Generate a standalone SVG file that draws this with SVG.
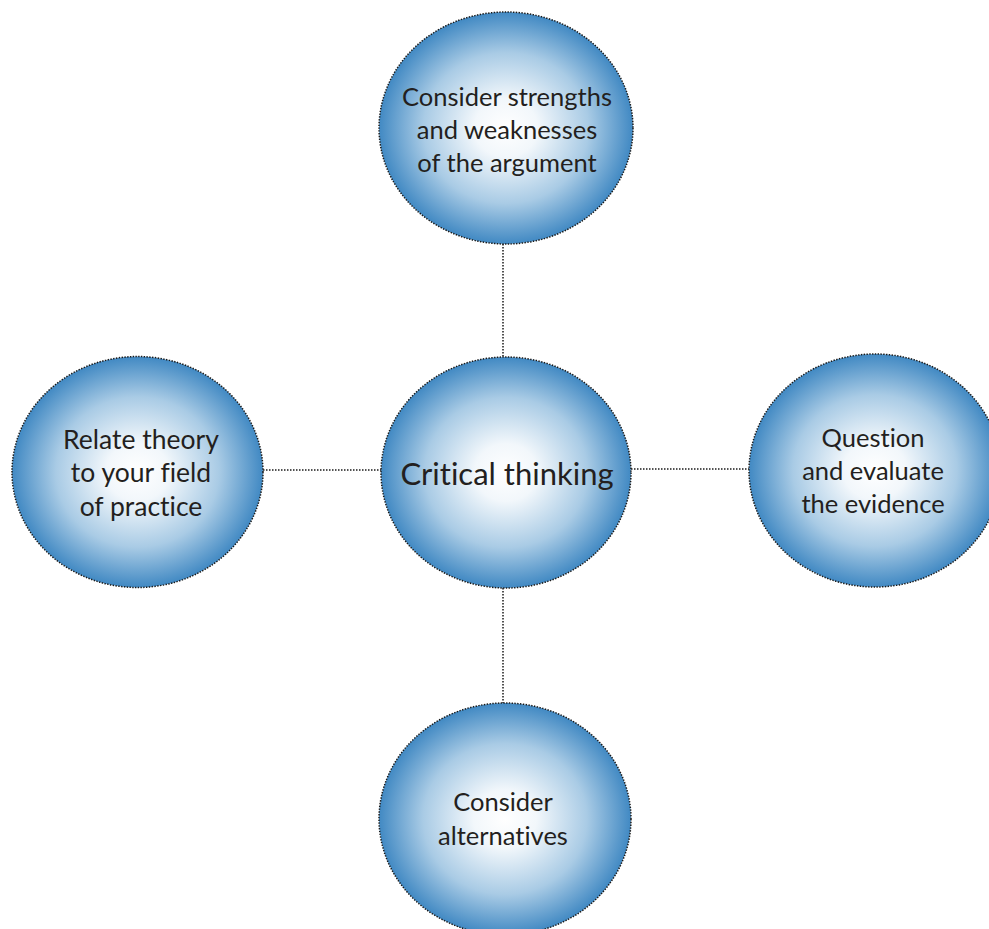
<svg xmlns="http://www.w3.org/2000/svg" width="989" height="929" viewBox="0 0 989 929">
<defs>
<radialGradient id="g" cx="50%" cy="50%" r="50%">
<stop offset="0" stop-color="#ffffff"/>
<stop offset="0.25" stop-color="#f2f7fb"/>
<stop offset="0.65" stop-color="#a9cbe5"/>
<stop offset="1" stop-color="#4189c3"/>
</radialGradient>
</defs>
<style>
.n{fill:url(#g);stroke:#1a1a1a;stroke-width:1.5;stroke-dasharray:1.4 1.4}
.c{stroke:#1a1a1a;stroke-width:1.5;stroke-dasharray:1.5 1.5;fill:none}
text{font-family:Lato,"Open Sans","Liberation Sans",sans-serif;fill:#231f20;text-anchor:middle;font-size:25.5px;font-variant-ligatures:none}
.big{font-size:31px}
.l{font-size:26.5px}
</style>
<rect width="989" height="929" fill="#ffffff"/>
<g id="connectors">
<line class="c" x1="503" y1="244" x2="503" y2="357"/>
<line class="c" x1="503" y1="588" x2="503" y2="703"/>
<line class="c" x1="263" y1="470" x2="381" y2="470"/>
<line class="c" x1="631" y1="469" x2="749" y2="469"/>
</g>
<g id="top">
<ellipse class="n" cx="506" cy="128" rx="127" ry="116"/>
<text x="507" y="106">Consider strengths</text>
<text x="507" y="139">and weaknesses</text>
<text x="507" y="172">of the argument</text>
</g>
<g id="center">
<ellipse class="n" cx="506" cy="472.5" rx="125" ry="115.5"/>
<text class="big" x="507" y="485">Critical thinking</text>
</g>
<g id="left">
<ellipse class="n" cx="137.5" cy="472" rx="125.5" ry="115.5"/>
<text class="l" x="141" y="449">Relate theory</text>
<text class="l" x="141" y="482">to your field</text>
<text class="l" x="141" y="516">of practice</text>
</g>
<g id="right">
<ellipse class="n" cx="875" cy="470.5" rx="126" ry="116.5"/>
<text x="873" y="447">Question</text>
<text x="873" y="480">and evaluate</text>
<text x="873" y="513">the evidence</text>
</g>
<g id="bottom">
<ellipse class="n" cx="505" cy="819" rx="126" ry="116"/>
<text x="503" y="811">Consider</text>
<text x="503" y="845">alternatives</text>
</g>
</svg>
